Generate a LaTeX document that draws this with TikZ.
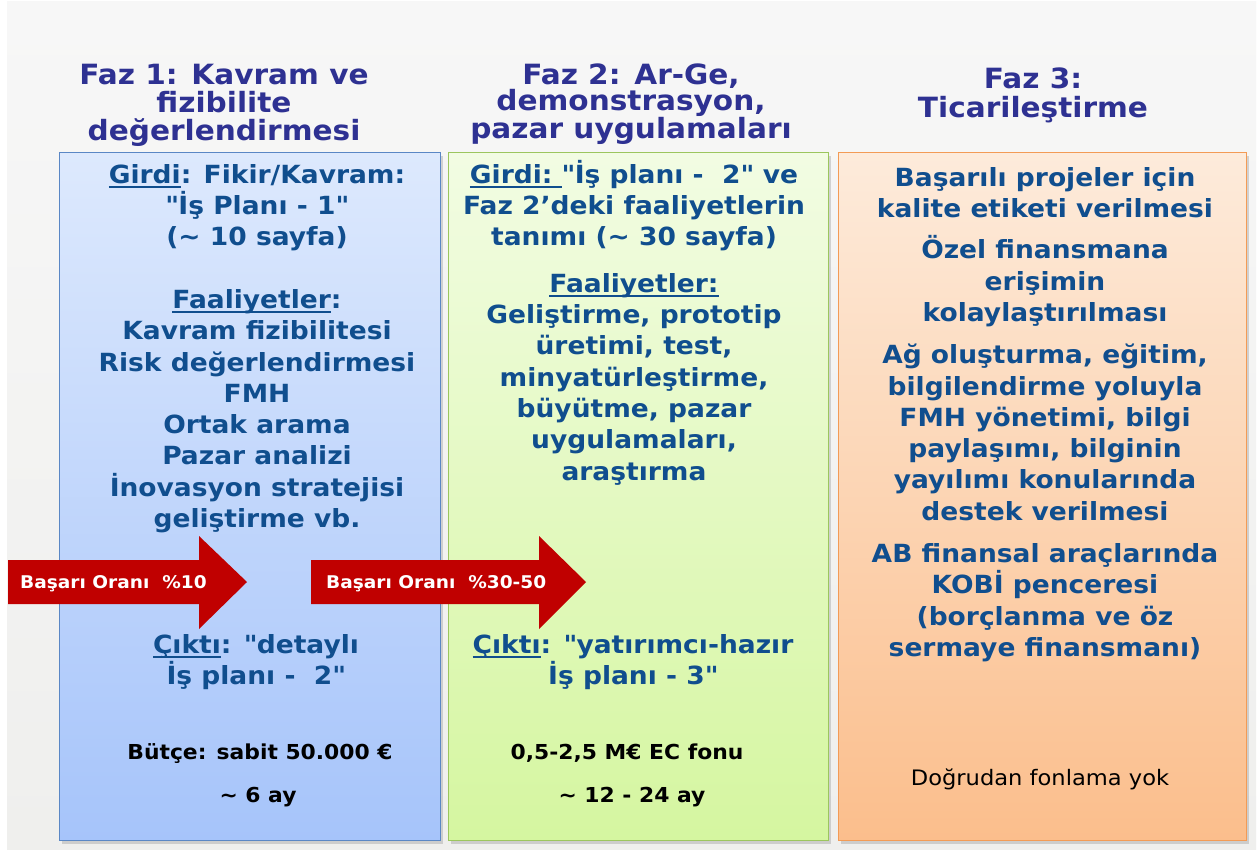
\documentclass[tikz,border=0pt]{standalone}
\usepackage{fontspec}
\setmainfont{DejaVu Sans}[FakeStretch=1.06]
\usetikzlibrary{shadows}
\definecolor{txt}{HTML}{104E8E}
\definecolor{ttl}{HTML}{2E3192}
\definecolor{arr}{HTML}{C00000}
\definecolor{bgtop}{HTML}{F7F7F7}
\definecolor{bgbot}{HTML}{EFEFED}
\definecolor{aT}{HTML}{DDE9FD}\definecolor{aB}{HTML}{A6C4FA}\definecolor{aD}{HTML}{5A87C5}
\definecolor{bT}{HTML}{F2FCE3}\definecolor{bB}{HTML}{D5F6A0}\definecolor{bD}{HTML}{9CC65E}
\definecolor{cT}{HTML}{FDEBDB}\definecolor{cB}{HTML}{FBBE8C}\definecolor{cD}{HTML}{F39B55}
\newcommand\fl{\rule{0pt}{26pt}}
\newcommand\tl{\rule{0pt}{22pt}}
\newcommand\qq{\textquotedbl}
\newcommand\myul[1]{\setbox0\hbox{#1}\rlap{\rule[-4.5pt]{\wd0}{1.7pt}}\box0}
\begin{document}
\begin{tikzpicture}[x=1pt,y=-1pt,
  panel/.style={draw=#1D, line width=1pt, anchor=north west, inner sep=0pt,
    top color=#1T, bottom color=#1B,
    drop shadow={shadow xshift=2pt,shadow yshift=-3pt,opacity=0.3}},
  body/.style={font=\bfseries\fontsize{25}{31.3}\selectfont, text=txt, align=center, inner sep=0pt, anchor=north},
  ttlbox/.style={font=\bfseries\fontsize{27.9}{28}\selectfont, text=ttl, align=center, inner sep=0pt, anchor=north},
  small/.style={font=\bfseries\fontsize{20.6}{24}\selectfont, text=black, inner sep=0pt, anchor=base},
  arrtext/.style={font=\bfseries\fontsize{17.5}{19}\selectfont, text=white, inner sep=0pt, anchor=base west},
  arrshape/.style={fill=arr}]
\useasboundingbox (0,0) rectangle (1260,851);
\fill[white] (0,0) rectangle (1260,851);
\shade[top color=bgtop, bottom color=bgbot] (7,2) rectangle (1256,849);

% panels
\node[panel=a, minimum width=381pt, minimum height=688pt] (p1) at (59,152) {};
\node[panel=b, minimum width=380pt, minimum height=688pt] (p2) at (448,152) {};
\node[panel=c, minimum width=408pt, minimum height=688pt] (p3) at (838,152) {};

% titles
\node[ttlbox] (t1) at (224,62) {\tl Faz 1: Kavram ve\\fizibilite\\değerlendirmesi};
\node[ttlbox, font=\bfseries\fontsize{27.9}{25}\selectfont] (t2) at (631,62) {\tl Faz 2: Ar-Ge,\\demonstrasyon,\\pazar uygulamaları};
\node[ttlbox, font=\bfseries\fontsize{27.9}{29}\selectfont] (t3) at (1033,66) {\tl Faz 3:\\Ticarileştirme};

% panel 1
\node[body] (g1) at (257,157) {\fl\myul{Girdi}: Fikir/Kavram:\\\qq İş Planı - 1\qq\\(\textasciitilde{} 10 sayfa)\\[31.3pt]\myul{Faaliyetler}:\\Kavram fizibilitesi\\Risk değerlendirmesi\\FMH\\Ortak arama\\Pazar analizi\\İnovasyon stratejisi\\geliştirme vb.};
\node[body] (c1) at (256,627) {\fl\myul{Çıktı}: \qq detaylı\\İş planı -\ \ 2\qq};
\node[small] (b1) at (260,759) {Bütçe: sabit 50.000 €};
\node[small] (d1) at (258,802) {\textasciitilde{} 6 ay};

% panel 2
\node[body] (g2) at (634,157) {\fl\myul{Girdi:\ }\qq İş planı -\ \ 2\qq{} ve\\Faz 2’deki faaliyetlerin\\tanımı (\textasciitilde{} 30 sayfa)};
\node[body] (f2) at (634,266) {\fl\myul{Faaliyetler:}\\Geliştirme, prototip\\üretimi, test,\\minyatürleştirme,\\büyütme, pazar\\uygulamaları,\\araştırma};
\node[body] (c2) at (633,627) {\fl\myul{Çıktı}: \qq yatırımcı-hazır\\İş planı - 3\qq};
\node[small] (b2) at (627,759) {0,5-2,5 M€ EC fonu};
\node[small] (d2) at (632,802) {\textasciitilde{} 12 - 24 ay};

% panel 3
\node[body] (s3) at (1045,160) {\fl Başarılı projeler için\\kalite etiketi verilmesi\\[10pt]Özel finansmana\\erişimin\\kolaylaştırılması\\[11pt]Ağ oluşturma, eğitim,\\bilgilendirme yoluyla\\FMH yönetimi, bilgi\\paylaşımı, bilginin\\yayılımı konularında\\destek verilmesi\\[11pt]AB finansal araçlarında\\KOBİ penceresi\\(borçlanma ve öz\\sermaye finansmanı)};
\node[small, font=\fontsize{21.3}{24}\selectfont] (n3) at (1040,785) {Doğrudan fonlama yok};

% arrows
\fill[arrshape] (8,560) -- (199,560) -- (199,536) -- (247,582) -- (199,629) -- (199,604) -- (8,604) -- cycle;
\fill[arrshape] (311,560) -- (539,560) -- (539,536) -- (586,582) -- (539,629) -- (539,604) -- (311,604) -- cycle;
\node[arrtext] (r1) at (20,588) {Başarı Oranı\ \ \%10};
\node[arrtext] (r2) at (326,588) {Başarı Oranı\ \ \%30-50};
\end{tikzpicture}
\end{document}
